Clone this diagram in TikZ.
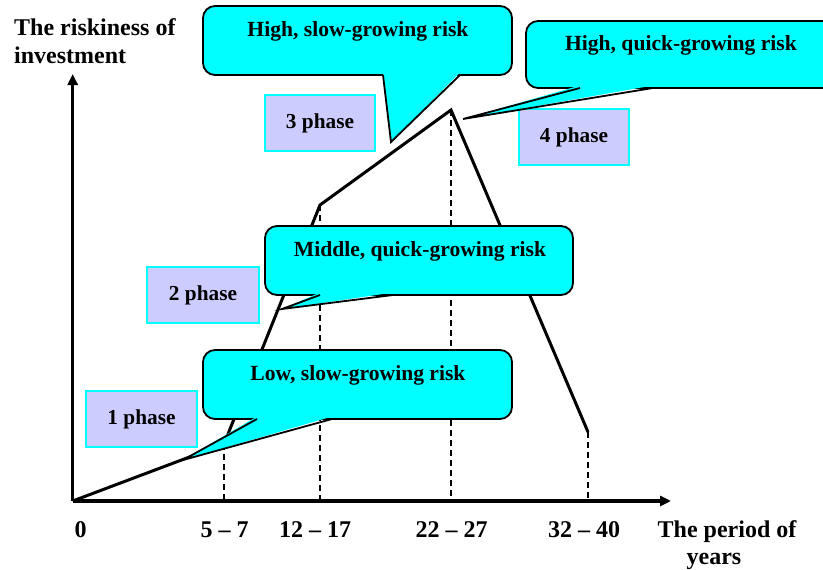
\documentclass[tikz,border=0pt]{standalone}
\usepackage{fontspec}
\setmainfont{Liberation Serif}
\usetikzlibrary{arrows.meta,calc}
\definecolor{callcyan}{HTML}{00FFFF}
\definecolor{phasefill}{HTML}{CCCCFF}
\tikzset{
  axisline/.style={line width=3.2pt,-{Triangle[length=11pt,width=10pt]}},
  curveline/.style={line width=3pt,line join=miter},
  dashline/.style={line width=1.4pt,dash pattern=on 6pt off 4pt},
  callrect/.style={draw=black,fill=callcyan,line width=1.8pt,rounded corners=12pt,inner sep=0pt,outer sep=0pt},
  callline/.style={draw=black,line width=1.8pt,line join=miter},
  calltext/.style={font=\fontsize{21.6}{26}\selectfont\bfseries,inner sep=0pt,anchor=base},
  phasebox/.style={draw=callcyan,fill=phasefill,line width=1.8pt,inner sep=0pt,font=\fontsize{21.3}{26}\selectfont\bfseries},
  axlabel/.style={font=\fontsize{24}{28}\selectfont\bfseries,inner sep=0pt,anchor=base}
}
\begin{document}
\begin{tikzpicture}[x=1pt,y=-1pt]
\useasboundingbox (0,0) rectangle (823,570);
\clip (0,0) rectangle (823,570);
% curve points
\coordinate (O) at (72.7,501);
\coordinate (A) at (224,444);
\coordinate (B) at (320,205);
\coordinate (C) at (451,110);
\coordinate (D) at (588,432);
\coordinate (Ytip) at (72.7,74);
\coordinate (Xtip) at (671,501);
% axes
\draw[axisline] (O) -- (Ytip);
\draw[axisline] (O) -- (Xtip);
% dashed drops
\draw[dashline] (A) -- (A |- O);
\draw[dashline] (B) -- (B |- O);
\draw[dashline] (C) -- (C |- O);
\draw[dashline] (D) -- (D |- O);
% curve
\draw[curveline] (O) -- (A) -- (B) -- (C) -- (D);
% phase boxes
\node[phasebox,minimum width=111pt,minimum height=56pt] (ph1) at (141.5,419) {1 phase};
\node[phasebox,minimum width=112pt,minimum height=56pt] (ph2) at (203,295) {2 phase};
\node[phasebox,minimum width=110pt,minimum height=56pt] (ph3) at (320,123) {3 phase};
\node[phasebox,minimum width=110pt,minimum height=56pt] (ph4) at (574,137) {4 phase};
% callout 1
\node[callrect,minimum width=309pt,minimum height=69pt] (c1) at (357.5,40.5) {};
\coordinate (c1a) at (383,75); \coordinate (c1b) at (460,75); \coordinate (c1t) at (391,142);
\fill[callcyan] ($(c1a)+(0,-2.5)$) -- (c1t) -- ($(c1b)+(0,-2.5)$) -- cycle;
\draw[callline] (c1a) -- (c1t) -- (c1b);
\node[calltext] (t1) at (358,36) {High, slow-growing risk};
% callout 2
\node[callrect,minimum width=314pt,minimum height=67pt] (c2) at (683,54.5) {};
\coordinate (c2a) at (580,88); \coordinate (c2b) at (653,88); \coordinate (c2t) at (463,119);
\fill[callcyan] ($(c2a)+(0,-2.5)$) -- (c2t) -- ($(c2b)+(0,-2.5)$) -- cycle;
\draw[callline] (c2a) -- (c2t) -- (c2b);
\node[calltext] (t2) at (681,50) {High, quick-growing risk};
% callout 3
\node[callrect,minimum width=308pt,minimum height=69pt] (c3) at (419,260.5) {};
\coordinate (c3a) at (320,295); \coordinate (c3b) at (393,295); \coordinate (c3t) at (282,309);
\fill[callcyan] ($(c3a)+(0,-2.5)$) -- (c3t) -- ($(c3b)+(0,-2.5)$) -- cycle;
\draw[callline] (c3a) -- (c3t) -- (c3b);
\node[calltext] (t3) at (420,256) {Middle, quick-growing risk};
% callout 4
\node[callrect,minimum width=309pt,minimum height=69pt] (c4) at (357.5,384.5) {};
\coordinate (c4a) at (257,419); \coordinate (c4b) at (332,419); \coordinate (c4t) at (183,460);
\fill[callcyan] ($(c4a)+(0,-2.5)$) -- (c4t) -- ($(c4b)+(0,-2.5)$) -- cycle;
\draw[callline] (c4a) -- (c4t) -- (c4b);
\node[calltext] (t4) at (358,380) {Low, slow-growing risk};
% axis labels
\node[axlabel,anchor=base west] (yl1) at (14,35) {The riskiness of};
\node[axlabel,anchor=base west] (yl2) at (14,63) {investment};
\node[axlabel] (x0) at (80.5,537) {0};
\node[axlabel] (x1) at (224.5,537) {5 – 7};
\node[axlabel] (x2) at (315,537) {12 – 17};
\node[axlabel] (x3) at (451.5,537) {22 – 27};
\node[axlabel] (x4) at (584,537) {32 – 40};
\node[axlabel] (xl1) at (727,537) {The period of};
\node[axlabel] (xl2) at (714,564) {years};
\end{tikzpicture}
\end{document}
